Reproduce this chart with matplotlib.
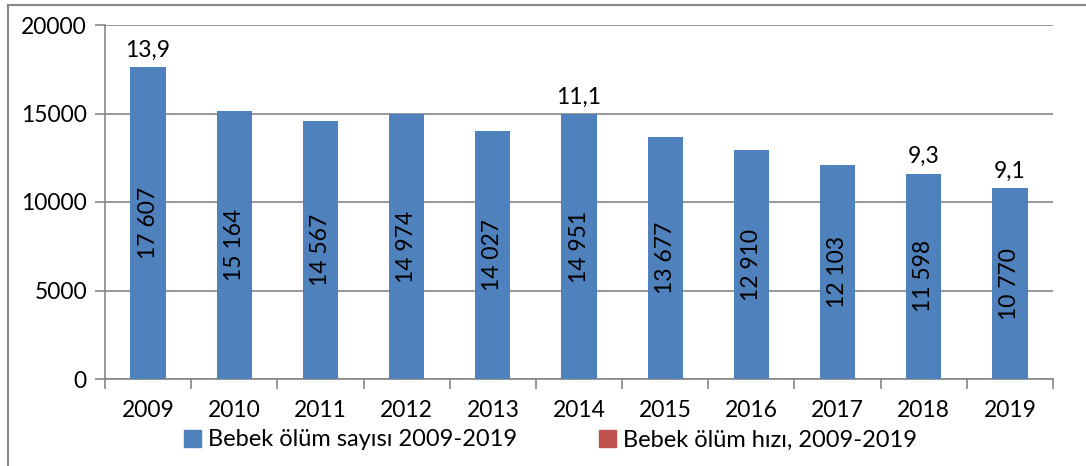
import matplotlib
matplotlib.use("Agg")
import matplotlib.pyplot as plt
from matplotlib.lines import Line2D
from matplotlib.patches import Patch

years = ["2009", "2010", "2011", "2012", "2013", "2014", "2015", "2016", "2017", "2018", "2019"]
deaths = [17607, 15164, 14567, 14974, 14027, 14951, 13677, 12910, 12103, 11598, 10770]
rate_labels = ["13,9", None, None, None, None, "11,1", None, None, None, "9,3", "9,1"]
yticks = [0, 5000, 10000, 15000, 20000]
legend_labels = ["Bebek ölüm sayısı 2009-2019", "Bebek ölüm hızı, 2009-2019"]

plt.rcParams['font.family'] = ['Lato', 'DejaVu Sans']
FS = 16.5

W, H = 1086, 466
fig = plt.figure(figsize=(W / 100, H / 100), dpi=100)
ax = fig.add_axes([105 / W, 1 - 379 / H, (1053 - 105) / W, (379 - 25) / H])

blue = "#4F81BD"
red = "#C0504D"
grey = "#868686"

x = list(range(len(years)))
bars = ax.bar(x, deaths, width=0.41, color=blue, zorder=3)

for xi, v in zip(x, deaths):
    s = f"{v:,}".replace(",", " ")
    ax.text(xi, v / 2, s, rotation=90, ha="center", va="center", fontsize=FS, color="black", zorder=4)

for xi, v, lab in zip(x, deaths, rate_labels):
    if lab:
        ax.annotate(lab, (xi, v), xytext=(0, 5), textcoords="offset points",
                    ha="center", va="bottom", fontsize=FS)

ax.set_xlim(-0.5, len(years) - 0.5)
ax.set_ylim(0, 20000)
ax.set_yticks(yticks)
ax.set_yticklabels([str(t) for t in yticks], fontsize=FS)
ax.yaxis.grid(True, color=grey, linewidth=1.2, zorder=0)
ax.set_axisbelow(True)

ax.set_xticks(x)
ax.set_xticklabels(years, fontsize=FS)
ax.tick_params(axis="x", length=0, pad=15)
ax.set_xticks([i - 0.5 for i in range(len(years) + 1)], minor=True)
ax.tick_params(axis="x", which="minor", length=7, width=1.2, color=grey)
ax.tick_params(axis="y", length=7, width=1.2, color=grey, pad=6)

for side in ["top", "right"]:
    ax.spines[side].set_visible(False)
for side in ["left", "bottom"]:
    ax.spines[side].set_color(grey)
    ax.spines[side].set_linewidth(1.2)

handles = [Patch(color=blue), Patch(color=red)]
fig.legend(handles, legend_labels, loc="center", bbox_to_anchor=(0.507, 1 - 440 / H),
           ncol=2, frameon=False, fontsize=17, handlelength=0.7, handleheight=0.7,
           handletextpad=0.3, columnspacing=3.5, borderpad=0.1)

# figure border lines (top and left)
fig.add_artist(Line2D([8 / W, 1], [1 - 5 / H, 1 - 5 / H], transform=fig.transFigure, color=grey, linewidth=1.5))
fig.add_artist(Line2D([8 / W, 8 / W], [0, 1 - 5 / H], transform=fig.transFigure, color=grey, linewidth=1.5))

fig.savefig("out.png", dpi=100)
